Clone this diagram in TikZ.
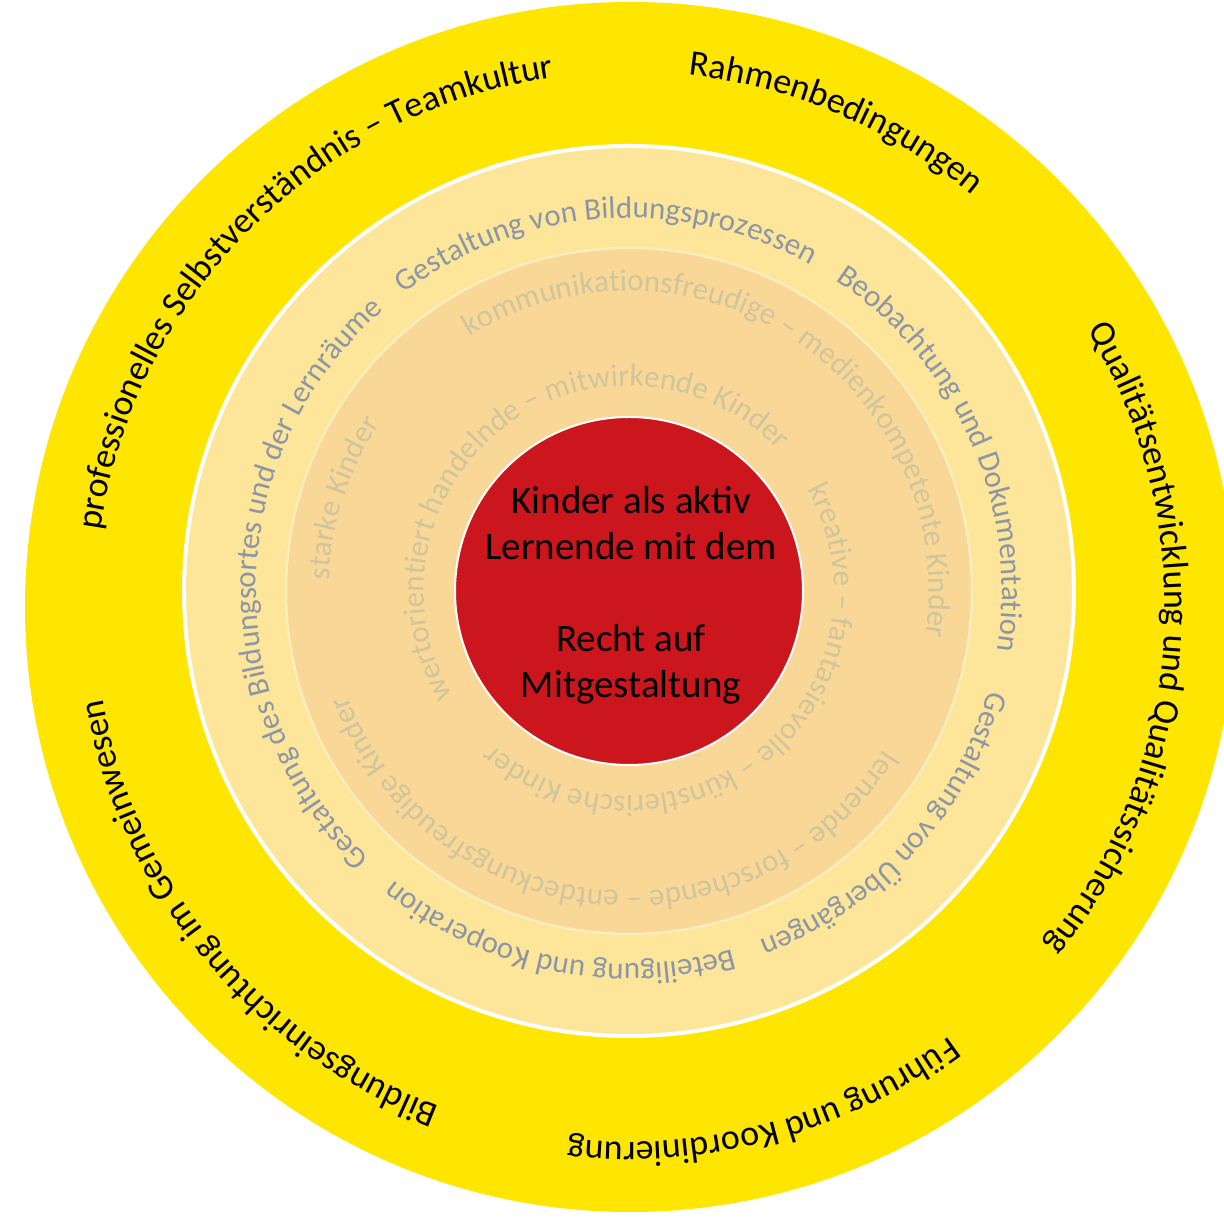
\documentclass[tikz,border=0pt]{standalone}
\usepackage{fontspec}
\setmainfont{Carlito}
\usetikzlibrary{decorations.text}

\definecolor{ringyellow}{RGB}{255,230,0}
\definecolor{lightring}{RGB}{253,229,153}
\definecolor{orangering}{RGB}{249,215,150}
\definecolor{ringline}{RGB}{253,236,188}
\definecolor{corered}{RGB}{204,22,29}
\definecolor{greytext}{RGB}{140,150,166}
\definecolor{fainttext}{RGB}{208,197,156}

\newcommand{\outerstyle}{\fontsize{36}{36}\selectfont\color{black}}
\newcommand{\midstyle}{\fontsize{31}{31}\selectfont\color{greytext}}
\newcommand{\innerstyle}{\fontsize{31}{31}\selectfont\color{fainttext}}

\begin{document}
\begin{tikzpicture}
      [x=1pt,y=1pt,
        ringtext/.style={decorate,decoration={text along path,text align=center}},
          core/.style={align=center,font=\fontsize{39}{46}\selectfont,text=black}]
  \useasboundingbox (0,0) rectangle (1224,1218);
  \clip (0,0) rectangle (1224,1218);
  \fill[ringyellow] (630,611) circle[radius=605];
  \filldraw[fill=lightring,draw=white,line width=4] (629,627) circle[radius=445];
  \filldraw[fill=orangering,draw=ringline,line width=2.5] (629,627) circle[radius=343];
  \filldraw[fill=corered,draw=white,line width=2] (629,627) circle[radius=174];
  \node[core] (kern) at (631,623)
    {Kinder als aktiv\\Lernende mit dem\\[46pt]Recht auf\\Mitgestaltung};
  \begin{scope}[shift={(630,611)}]
    \path[ringtext,decoration={text={|\outerstyle|professionelles Selbstverständnis – Teamkultur}}]
      (225:535) arc[start angle=225,end angle=45,radius=535];
    \path[ringtext,decoration={text={|\outerstyle|Rahmenbedingungen}}]
      (157:535) arc[start angle=157,end angle=-23,radius=535];
    \path[ringtext,decoration={text={|\outerstyle|Qualitätsentwicklung und Qualitätssicherung}}]
      (86:535) arc[start angle=86,end angle=-94,radius=535];
    \path[ringtext,decoration={text={|\outerstyle|Führung und Koordinierung}}]
      (15:535) arc[start angle=15,end angle=-165,radius=535];
    \path[ringtext,decoration={text={|\outerstyle|Bildungseinrichtung im Gemeinwesen}}]
      (-50.5:535) arc[start angle=-50.5,end angle=-230.5,radius=535];
  \end{scope}
  \begin{scope}[shift={(629,627)}]
    \path[ringtext,decoration={text={|\midstyle|Gestaltung des Bildungsortes und der Lernräume}}]
      (268.5:373) arc[start angle=268.5,end angle=88.5,radius=373];
    \path[ringtext,decoration={text={|\midstyle|Gestaltung von Bildungsprozessen}}]
      (184:373) arc[start angle=184,end angle=4,radius=373];
    \path[ringtext,decoration={text={|\midstyle|Beobachtung und Dokumentation}}]
      (113.6:373) arc[start angle=113.6,end angle=-66.4,radius=373];
    \path[ringtext,decoration={text={|\midstyle|Gestaltung von Übergängen}}]
      (47.5:373) arc[start angle=47.5,end angle=-132.5,radius=373];
    \path[ringtext,decoration={text={|\midstyle|Beteiligung und Kooperation}}]
      (-11.5:373) arc[start angle=-11.5,end angle=-191.5,radius=373];
    \path[ringtext,decoration={text={|\innerstyle|starke Kinder}}]
      (252:300) arc[start angle=252,end angle=72,radius=300];
    \path[ringtext,decoration={text={|\innerstyle|kommunikationsfreudige – medienkompetente Kinder}}]
      (146.7:300) arc[start angle=146.7,end angle=-33.3,radius=300];
    \path[ringtext,decoration={text={|\innerstyle|lernende – forschende – entdeckungsfreudige Kinder}}]
      (-5.8:300) arc[start angle=-5.8,end angle=-185.8,radius=300];
    \path[ringtext,decoration={text={|\innerstyle|wertorientiert handelnde – mitwirkende Kinder}}]
      (217:205) arc[start angle=217,end angle=37,radius=205];
    \path[ringtext,decoration={text={|\innerstyle|kreative – fantasievolle – künstlerische Kinder}}]
      (39:205) arc[start angle=39,end angle=-141,radius=205];
  \end{scope}
\end{tikzpicture}
\end{document}
